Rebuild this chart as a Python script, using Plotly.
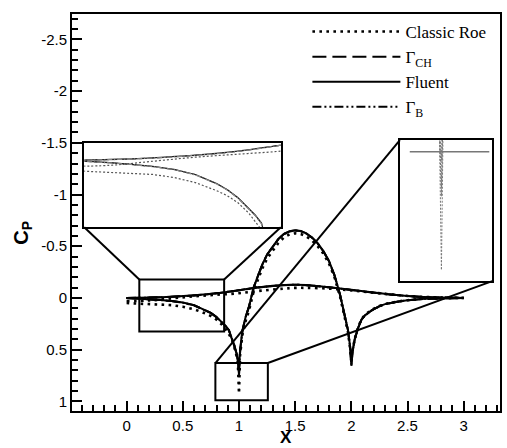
import plotly.graph_objects as go

# ---------------- data ----------------
# Lower wall (bump side)
x_low_fluent = [0.0, 0.1, 0.2, 0.3, 0.4, 0.5, 0.6, 0.7, 0.75, 0.8, 0.85, 0.88, 0.91, 0.94, 0.96, 0.98, 0.99, 1.0,
                1.01, 1.03, 1.06, 1.09, 1.13, 1.17, 1.21, 1.25, 1.3, 1.35, 1.4, 1.45, 1.5, 1.55, 1.6, 1.65, 1.7,
                1.75, 1.8, 1.85, 1.9, 1.94, 1.97, 1.99, 2.0, 2.01, 2.03, 2.06, 2.09, 2.12, 2.18, 2.25, 2.3, 2.4,
                2.5, 2.65, 2.8, 3.0]
cp_low_fluent = [0.0, 0.005, 0.012, 0.02, 0.03, 0.045, 0.07, 0.115, 0.145, 0.185, 0.235, 0.27, 0.31, 0.4, 0.46, 0.54, 0.6, 0.68,
                 0.5, 0.32, 0.18, 0.08, -0.1, -0.22, -0.33, -0.42, -0.5, -0.57, -0.62, -0.645, -0.655, -0.648, -0.625, -0.585, -0.53,
                 -0.455, -0.36, -0.22, -0.03, 0.15, 0.31, 0.48, 0.64, 0.52, 0.4, 0.29, 0.21, 0.17, 0.12, 0.08, 0.06, 0.038,
                 0.022, 0.008, 0.003, 0.0]
cp_low_gch = [0.0, 0.005, 0.012, 0.021, 0.031, 0.046, 0.071, 0.116, 0.146, 0.186, 0.236, 0.271, 0.312, 0.402, 0.462, 0.545, 0.61, 0.76,
              0.52, 0.322, 0.182, 0.082, -0.098, -0.218, -0.328, -0.418, -0.498, -0.568, -0.618, -0.643, -0.653, -0.646, -0.623, -0.583, -0.528,
              -0.453, -0.358, -0.218, -0.028, 0.152, 0.312, 0.485, 0.66, 0.53, 0.402, 0.292, 0.212, 0.171, 0.121, 0.081, 0.061, 0.039,
              0.023, 0.009, 0.003, 0.0]
cp_low_gb = [0.0, 0.005, 0.013, 0.021, 0.031, 0.046, 0.072, 0.117, 0.147, 0.187, 0.237, 0.272, 0.313, 0.403, 0.463, 0.545, 0.61, 0.74,
             0.52, 0.323, 0.183, 0.083, -0.097, -0.217, -0.327, -0.417, -0.497, -0.567, -0.617, -0.642, -0.652, -0.645, -0.622, -0.582, -0.527,
             -0.452, -0.357, -0.217, -0.027, 0.153, 0.313, 0.485, 0.65, 0.53, 0.403, 0.293, 0.213, 0.172, 0.122, 0.082, 0.061, 0.039,
             0.023, 0.009, 0.003, 0.0]
x_low_roe = [0.0, 0.1, 0.2, 0.3, 0.4, 0.5, 0.6, 0.7, 0.75, 0.8, 0.85, 0.9, 0.94, 0.97, 0.99, 1.0,
             1.01, 1.03, 1.06, 1.09, 1.13, 1.17, 1.21, 1.25, 1.3, 1.35, 1.4, 1.45, 1.5, 1.55, 1.6, 1.65, 1.7,
             1.75, 1.8, 1.85, 1.9, 1.94, 1.97, 1.99, 2.0, 2.01, 2.03, 2.06, 2.09, 2.12, 2.18, 2.25, 2.3, 2.4,
             2.5, 2.65, 2.8, 3.0]
cp_low_roe = [0.05, 0.055, 0.058, 0.062, 0.07, 0.085, 0.11, 0.15, 0.175, 0.21, 0.26, 0.33, 0.41, 0.52, 0.62, 0.925,
              0.55, 0.36, 0.22, 0.12, -0.06, -0.18, -0.29, -0.38, -0.46, -0.53, -0.585, -0.615, -0.625, -0.618, -0.595, -0.555, -0.5,
              -0.43, -0.335, -0.2, -0.01, 0.17, 0.33, 0.5, 0.62, 0.51, 0.395, 0.285, 0.205, 0.165, 0.115, 0.078, 0.058, 0.037,
              0.022, 0.008, 0.003, 0.0]

# Upper wall
x_up = [0.0, 0.2, 0.4, 0.6, 0.8, 1.0, 1.2, 1.4, 1.5, 1.6, 1.8, 2.0, 2.2, 2.4, 2.6, 2.8, 3.0]
cp_up_fluent = [0.0, -0.004, -0.012, -0.025, -0.045, -0.075, -0.105, -0.124, -0.128, -0.124, -0.103, -0.078, -0.052, -0.028, -0.012, -0.004, 0.0]
cp_up_gch = [0.0, -0.003, -0.011, -0.024, -0.044, -0.074, -0.104, -0.123, -0.127, -0.123, -0.102, -0.077, -0.051, -0.027, -0.011, -0.004, 0.0]
cp_up_gb = [0.0, -0.003, -0.011, -0.024, -0.044, -0.074, -0.104, -0.123, -0.127, -0.123, -0.102, -0.077, -0.051, -0.027, -0.011, -0.004, 0.0]
cp_up_roe = [0.03, 0.025, 0.005, -0.015, -0.03, -0.045, -0.07, -0.09, -0.097, -0.097, -0.09, -0.072, -0.05, -0.028, -0.012, -0.004, 0.0]

series_names = ["Classic Roe", "Γ<sub>CH</sub>", "Fluent", "Γ<sub>B</sub>"]

x_ticks = [0, 0.5, 1, 1.5, 2, 2.5, 3]
x_ticktext = ["0", "0.5", "1", "1.5", "2", "2.5", "3"]
y_ticks = [-2.5, -2, -1.5, -1, -0.5, 0, 0.5, 1]
y_ticktext = ["-2.5", "-2", "-1.5", "-1", "-0.5", "0", "0.5", "1"]

# ---------------- layout constants ----------------
X_RANGE = [-0.486, 3.323]
Y_RANGE = [1.094, -2.746]   # reversed

# zoom regions (data coords of main axes) and inset placements
ZOOM_L = dict(x0=0.113, x1=0.868, y0=-0.178, y1=0.325)
INSET_L = dict(x0=-0.377, x1=1.372, y0=-1.498, y1=-0.684)
INSET_L_RANGE_X = [0.08, 1.0]
INSET_L_RANGE_Y = [0.33, -0.085]
ZOOM_B = dict(x0=0.79, x1=1.257, y0=0.63, y1=0.99)
INSET_R = dict(x0=2.432, x1=3.254, y0=-1.527, y1=-0.162)
INSET_R_RANGE_Y = [0.95, 0.634]
INSET_R_LEVEL = 0.66


def px(x):
    return (x - X_RANGE[0]) / (X_RANGE[1] - X_RANGE[0])


def py(y):
    return (Y_RANGE[0] - y) / (Y_RANGE[0] - Y_RANGE[1])


FONT_AX = "Liberation Sans, Arial, sans-serif"
FONT_LEG = "Liberation Serif, Times New Roman, serif"

styles = {
    "roe": dict(color="black", width=2.6, dash="2.6px,4.4px"),
    "gch": dict(color="black", width=2, dash="14px,6px"),
    "fluent": dict(color="black", width=2),
    "gb": dict(color="black", width=2, dash="9px,3px,2px,3px,2px,3px"),
}
inset_styles = {
    "roe": dict(color="#555", width=1.2, dash="2px,2px"),
    "gch": dict(color="#777", width=1.2, dash="6px,3px"),
    "fluent": dict(color="#222", width=1.2),
    "gb": dict(color="#888", width=1.2, dash="5px,2px,1px,2px"),
}

series = [
    ("roe", series_names[0], x_low_roe, cp_low_roe, cp_up_roe),
    ("gch", series_names[1], x_low_fluent, cp_low_gch, cp_up_gch),
    ("fluent", series_names[2], x_low_fluent, cp_low_fluent, cp_up_fluent),
    ("gb", series_names[3], x_low_fluent, cp_low_gb, cp_up_gb),
]

fig = go.Figure()

for key, name, xl, cl, cu in series:
    # main axes
    fig.add_trace(go.Scatter(x=xl, y=cl, mode="lines", name=name, line=styles[key],
                             legendgroup=key, showlegend=True, xaxis="x", yaxis="y"))
    fig.add_trace(go.Scatter(x=x_up, y=cu, mode="lines", name=name, line=dict(styles[key], shape="spline"),
                             legendgroup=key, showlegend=False, xaxis="x", yaxis="y"))
    # left inset
    fig.add_trace(go.Scatter(x=xl, y=cl, mode="lines", line=inset_styles[key], showlegend=False,
                             xaxis="x2", yaxis="y2", hoverinfo="skip"))
    fig.add_trace(go.Scatter(x=x_up, y=cu, mode="lines", line=dict(inset_styles[key], shape="spline"),
                             showlegend=False, xaxis="x2", yaxis="y2", hoverinfo="skip"))
    # right inset
    fig.add_trace(go.Scatter(x=xl, y=cl, mode="lines", line=dict(inset_styles[key], dash="2px,1.5px", color="#777", width=1),
                             showlegend=False, xaxis="x3", yaxis="y3", hoverinfo="skip"))

axis_common = dict(showgrid=False, zeroline=False, showline=True, mirror=True, linecolor="black",
                   linewidth=2, ticks="inside", ticklen=10, tickwidth=2, tickcolor="black",
                   tickfont=dict(family=FONT_AX, size=15, color="black"))

inset_axis = dict(showgrid=False, zeroline=False, showline=True, mirror=True, linecolor="black",
                  linewidth=2.2, ticks="", showticklabels=False)

shapes = []
# zoom boxes
for z in (ZOOM_L, ZOOM_B):
    shapes.append(dict(type="rect", xref="x", yref="y", x0=z["x0"], x1=z["x1"], y0=z["y0"], y1=z["y1"],
                       line=dict(color="black", width=2)))
# connectors
conn = [
    (INSET_L["x0"], INSET_L["y1"], ZOOM_L["x0"], ZOOM_L["y0"]),
    (INSET_L["x1"], INSET_L["y1"], ZOOM_L["x1"], ZOOM_L["y0"]),
    (ZOOM_B["x0"], ZOOM_B["y0"], INSET_R["x0"], INSET_R["y0"]),
    (ZOOM_B["x1"], ZOOM_B["y0"], INSET_R["x1"], INSET_R["y1"]),
]
for x0, y0, x1, y1 in conn:
    shapes.append(dict(type="line", xref="x", yref="y", x0=x0, y0=y0, x1=x1, y1=y1,
                       line=dict(color="black", width=2)))
# reference level line inside right inset
shapes.append(dict(type="line", xref="x3", yref="y3", x0=ZOOM_B["x0"] + 0.05, x1=ZOOM_B["x1"] - 0.015,
                   y0=INSET_R_LEVEL, y1=INSET_R_LEVEL, line=dict(color="#777", width=1.5)))

fig.update_layout(
    width=507, height=448,
    margin=dict(l=72, r=5, t=14, b=37),
    paper_bgcolor="white", plot_bgcolor="white",
    xaxis=dict(axis_common, range=X_RANGE, tickvals=x_ticks, ticktext=x_ticktext,
               minor=dict(ticks="inside", ticklen=6, tickwidth=1.5, dtick=0.1, tick0=0, tickcolor="black")),
    yaxis=dict(axis_common, range=Y_RANGE, tickvals=y_ticks, ticktext=y_ticktext,
               minor=dict(ticks="inside", ticklen=6, tickwidth=1.5, dtick=0.1, tick0=0, tickcolor="black")),
    xaxis2=dict(inset_axis, domain=[px(INSET_L["x0"]), px(INSET_L["x1"])], range=INSET_L_RANGE_X, anchor="y2"),
    yaxis2=dict(inset_axis, domain=[py(INSET_L["y1"]), py(INSET_L["y0"])], range=INSET_L_RANGE_Y, anchor="x2"),
    xaxis3=dict(inset_axis, domain=[px(INSET_R["x0"]), px(INSET_R["x1"])], range=[ZOOM_B["x0"], ZOOM_B["x1"]], anchor="y3"),
    yaxis3=dict(inset_axis, domain=[py(INSET_R["y1"]), py(INSET_R["y0"])], range=INSET_R_RANGE_Y, anchor="x3"),
    shapes=shapes,
    showlegend=True,
    legend=dict(x=0.55, y=1.0, xanchor="left", yanchor="top", bgcolor="rgba(0,0,0,0)",
                font=dict(family=FONT_LEG, size=17, color="black"), itemwidth=88,
                tracegroupgap=0, traceorder="normal"),
    annotations=[
        dict(text="<b>C<sub>P</sub></b>", xref="paper", yref="paper", x=-0.116, y=0.45,
             xanchor="center", yanchor="middle", showarrow=False,
             textangle=-90, font=dict(family=FONT_AX, size=20, color="black")),
        dict(text="<b>X</b>", xref="paper", yref="paper", x=0.5, y=-0.066,
             xanchor="center", yanchor="middle", showarrow=False,
             font=dict(family=FONT_AX, size=17, color="black")),
    ],
)

fig.write_html("out.html")
